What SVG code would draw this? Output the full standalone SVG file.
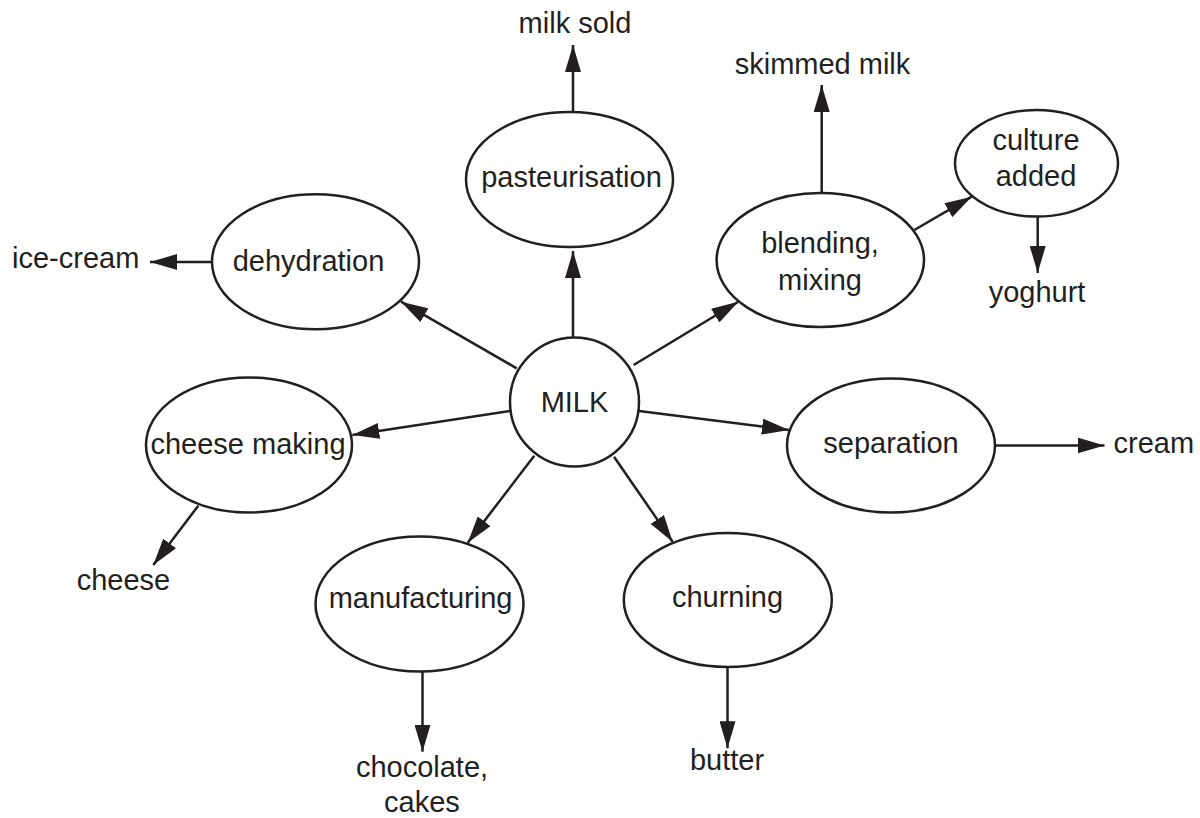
<svg xmlns="http://www.w3.org/2000/svg" width="1200" height="818" viewBox="0 0 1200 818">
<style>
.n{fill:#fff;stroke:#231f20;stroke-width:2.5}
.t{font-family:"Liberation Sans",Arial,Helvetica,sans-serif;font-size:29px;fill:#231f20;text-anchor:middle}
.c line{stroke:#231f20;stroke-width:2.5;marker-end:url(#ah)}
</style>
<defs>
<marker id="ah" markerUnits="userSpaceOnUse" markerWidth="28" markerHeight="16" refX="27" refY="8" orient="auto">
<path d="M0,0 L27,8 L0,16 z" fill="#231f20"/>
</marker>
</defs>
<rect width="1200" height="818" fill="#fff"/>
<g class="c" id="connectors">
<line x1="573" y1="338" x2="573" y2="251"/>
<line x1="573" y1="112" x2="573" y2="45"/>
<line x1="633.6" y1="365" x2="738.3" y2="301.7"/>
<line x1="821.7" y1="193" x2="821.7" y2="85"/>
<line x1="914.3" y1="230" x2="971.7" y2="196.7"/>
<line x1="1037.7" y1="217" x2="1037.7" y2="273"/>
<line x1="516.7" y1="368.3" x2="401" y2="301.7"/>
<line x1="212" y1="262" x2="150" y2="262"/>
<line x1="510" y1="411" x2="352.3" y2="435"/>
<line x1="198.3" y1="505.7" x2="153.3" y2="565"/>
<line x1="639" y1="411" x2="789" y2="430"/>
<line x1="994" y1="445.5" x2="1104.5" y2="445.5"/>
<line x1="534.3" y1="455.7" x2="467.7" y2="542.7"/>
<line x1="422.5" y1="672" x2="422.5" y2="751.7"/>
<line x1="614" y1="456.7" x2="672.6" y2="541.7"/>
<line x1="727.5" y1="667" x2="727.5" y2="748.3"/>
</g>
<g id="milk"><circle class="n" cx="574.5" cy="402" r="64.5"/><text class="t" x="574.5" y="412">MILK</text></g>
<g id="pasteurisation"><ellipse class="n" cx="569.5" cy="179.5" rx="103.5" ry="67.5"/><text class="t" x="571.5" y="187">pasteurisation</text></g>
<g id="blending"><ellipse class="n" cx="820.3" cy="260" rx="103.7" ry="67"/><text class="t" x="820" y="253">blending,</text><text class="t" x="820" y="290">mixing</text></g>
<g id="culture"><ellipse class="n" cx="1036.5" cy="163.3" rx="81.5" ry="53.3"/><text class="t" x="1036" y="150">culture</text><text class="t" x="1036" y="186">added</text></g>
<g id="dehydration"><ellipse class="n" cx="315.5" cy="261.8" rx="103.5" ry="67.5"/><text class="t" x="308.5" y="271">dehydration</text></g>
<g id="cheesemaking"><ellipse class="n" cx="249" cy="445" rx="103" ry="67.5"/><text class="t" x="248" y="454">cheese making</text></g>
<g id="separation"><ellipse class="n" cx="891" cy="445.5" rx="104" ry="67"/><text class="t" x="891" y="453">separation</text></g>
<g id="manufacturing"><ellipse class="n" cx="419.5" cy="604" rx="104" ry="67.5"/><text class="t" x="420.6" y="608">manufacturing</text></g>
<g id="churning"><ellipse class="n" cx="727.8" cy="600" rx="104" ry="67"/><text class="t" x="727.5" y="607">churning</text></g>
<g id="outputs">
<text class="t" x="575" y="33">milk sold</text>
<text class="t" x="822.5" y="74">skimmed milk</text>
<text class="t" x="1037" y="302">yoghurt</text>
<text class="t" x="12" y="268" style="text-anchor:start">ice-cream</text>
<text class="t" x="1113.5" y="453" style="text-anchor:start">cream</text>
<text class="t" x="123.5" y="590">cheese</text>
<text class="t" x="422" y="777">chocolate,</text>
<text class="t" x="422" y="812">cakes</text>
<text class="t" x="727" y="770">butter</text>
</g>
</svg>
